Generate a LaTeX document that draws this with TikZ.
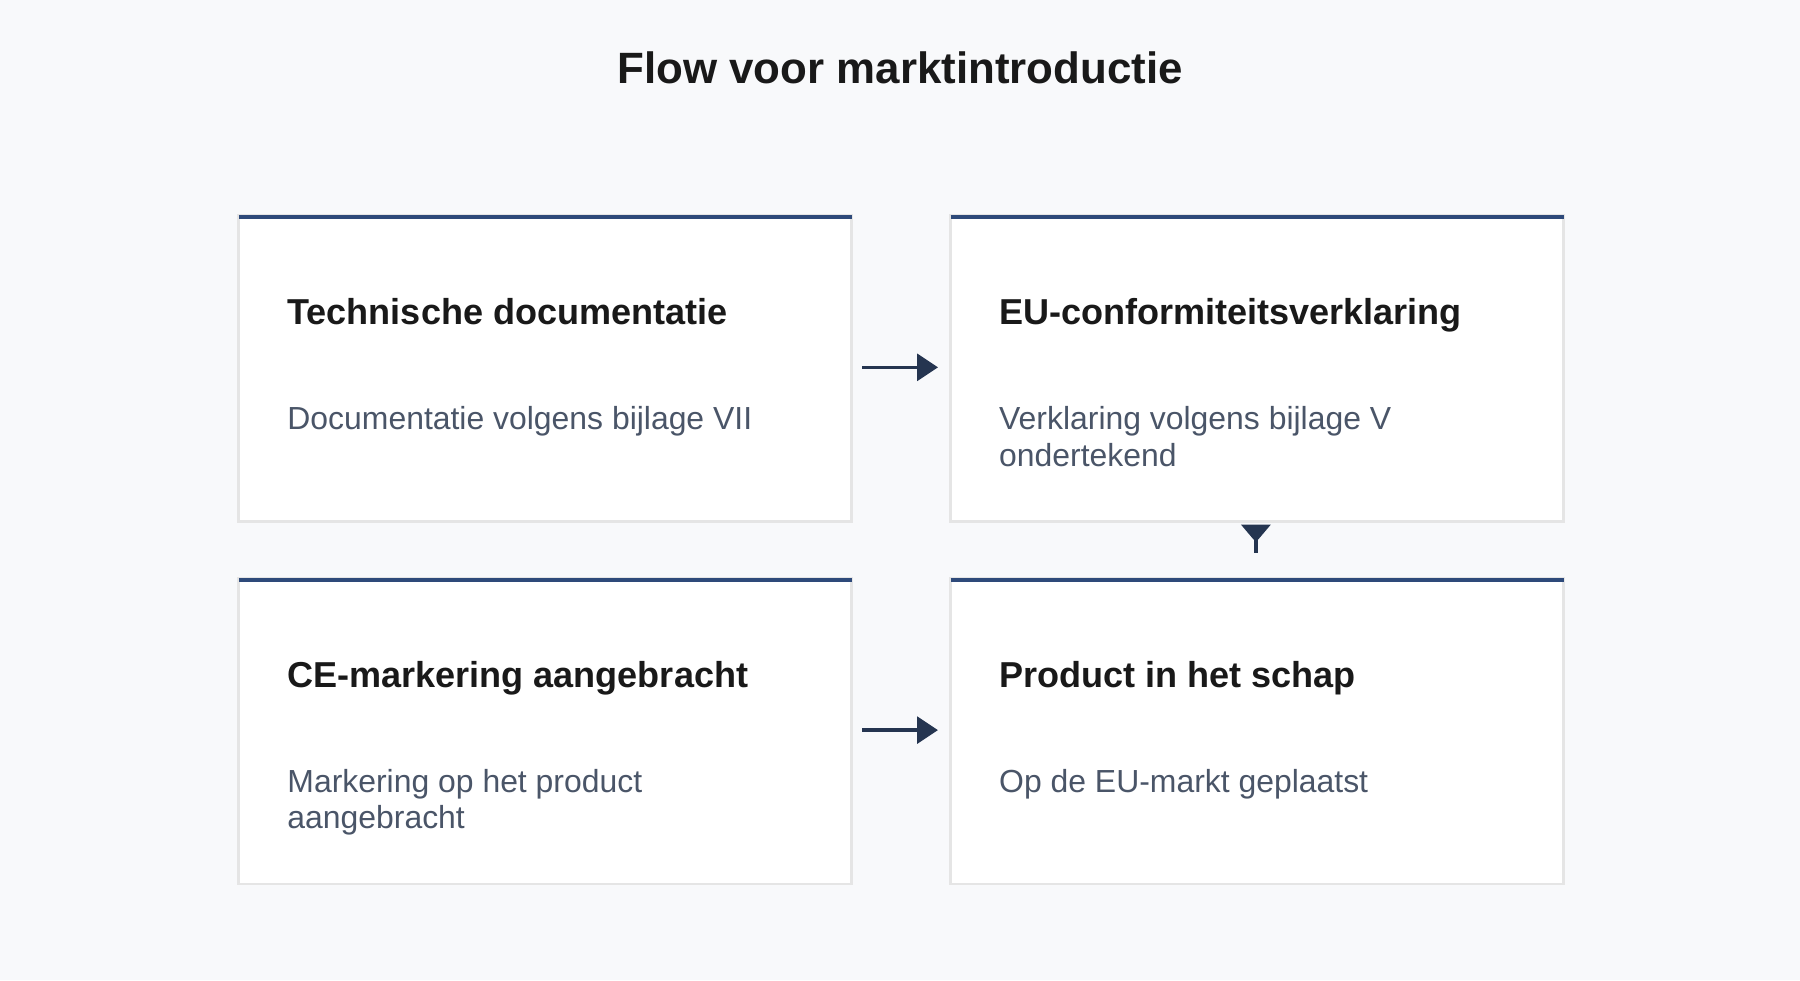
\documentclass[tikz,border=0pt]{standalone}
\usepackage{fontspec}
\setmainfont{Liberation Sans}
\begin{document}
\begin{tikzpicture}[x=0.5pt,y=-0.5pt,
  card/.style={draw=gray!20,line width=1.2pt,fill=white},
  head/.style={anchor=base west,inner sep=0pt,font=\fontsize{15.7}{18}\selectfont\bfseries,text=black!90},
  body/.style={anchor=base west,inner sep=0pt,font=\fontsize{13.9}{16}\selectfont,align=left},
  arr/.style={draw=arrcol,line width=1.6pt},
]
\definecolor{bg}{HTML}{F8F9FB}
\definecolor{bar}{HTML}{2E4A7A}
\definecolor{arrcol}{HTML}{253550}
\definecolor{bodycol}{HTML}{4A5568}
\fill[bg] (0,0) rectangle (1568,854);
\useasboundingbox (0,0) rectangle (1568,854);
\node[font=\fontsize{19.1}{22}\selectfont\bfseries,text=black!90,anchor=base,inner sep=0pt] (title) at (784,73) {Flow voor marktintroductie};
\foreach \n/\x/\y in {a/208/188,b/828/188,c/208/504,d/828/504}{
  \draw[card] (\x,\y) rectangle ++(534,266);
  \coordinate (\n) at (\x,\y);
  \draw[draw=bar,line width=1.6pt] (\x,\y+1) -- ++(534,0);
}
\node[head] (h1) at (250,283) {Technische documentatie};
\node[body,text=bodycol] (t1) at (250,374) {Documentatie volgens bijlage VII};
\node[head] (h2) at (870,283) {EU-conformiteitsverklaring};
\node[body,text=bodycol] (t2) at (870,406) {Verklaring volgens bijlage V\\ondertekend};
\node[head] (h3) at (250,599) {CE-markering aangebracht};
\node[body,text=bodycol] (t3) at (250,722) {Markering op het product\\aangebracht};
\node[head] (h4) at (870,599) {Product in het schap};
\node[body,text=bodycol] (t4) at (870,690) {Op de EU-markt geplaatst};
\foreach \y in {320,636}{
  \coordinate (s) at (751,\y); \coordinate (e) at (802,\y);
  \draw[arr] (s) -- (e);
  \fill[arrcol] (799,\y-12) -- (817,\y) -- (799,\y+12) -- cycle;
}
\coordinate (ds) at (1094,466); \coordinate (de) at (1094,482);
\draw[arr] (ds) -- (de);
\fill[arrcol] (1081,457) -- (1107,457) -- (1096,470) -- (1092,470) -- cycle;
\end{tikzpicture}
\end{document}
